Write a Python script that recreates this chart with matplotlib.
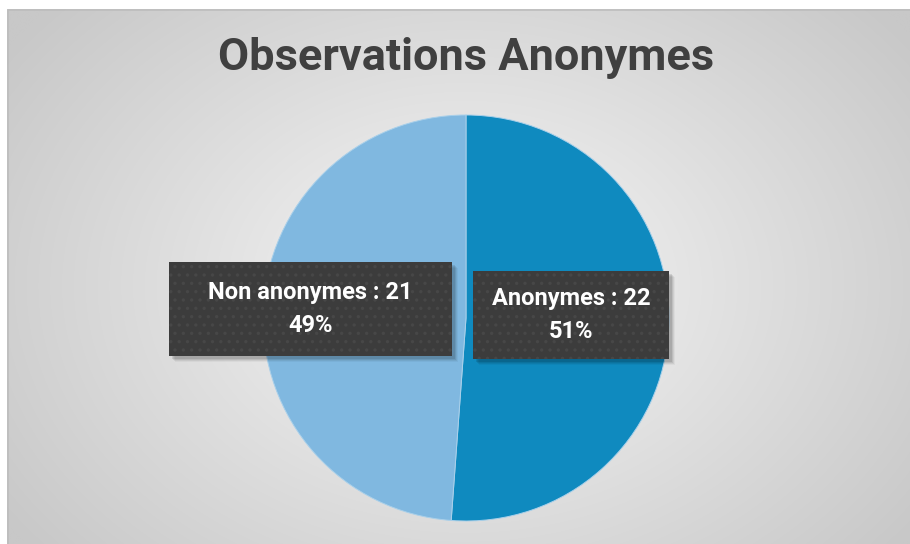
import numpy as np
import matplotlib
matplotlib.use("Agg")
import matplotlib.pyplot as plt
from matplotlib.patches import Rectangle

title = "Observations Anonymes"
categories = ["Anonymes", "Non anonymes"]
values = [22, 21]
colors = ["#0f8abf", "#80b8e0"]

plt.rcParams["hatch.linewidth"] = 1.2

W, H = 910, 544
fig = plt.figure(figsize=(W / 100, H / 100), dpi=100)
fig.patch.set_facecolor("white")

# background radial gradient in chart area
bg = fig.add_axes([0, 0, 1, 1])
bg.set_xlim(0, W)
bg.set_ylim(H, 0)
bg.axis("off")
yy, xx = np.mgrid[0:H, 0:W]
cx, cy = 460, 280
d = np.sqrt(((xx - cx) / 560) ** 2 + ((yy - cy) / 420) ** 2)
d = np.clip(d, 0, 1)
g = (247 - 47 * d) / 255
img = np.dstack([g, g, g])
bg.imshow(img, extent=[7, W + 2, H + 2, 9], aspect="auto", zorder=0)
bg.plot([7.5, 7.5, W + 5], [H + 5, 9.5, 9.5], color="#bdbdbd", lw=1.2, zorder=1)

fig.text(466 / W, 1 - 58 / H, title, ha="center", va="center",
         fontsize=32.5, fontweight="bold", color="#404040", family="Roboto")

# pie
cxp, cyp, r = 466, 318, 203
ax = fig.add_axes([(cxp - r) / W, (H - cyp - r) / H, 2 * r / W, 2 * r / H])
ax.pie(values, colors=colors, startangle=90, counterclock=False, radius=1,
       wedgeprops=dict(linewidth=0.7, edgecolor="#a9d0ea"))
ax.set_xlim(-1, 1)
ax.set_ylim(-1, 1)
ax.set_aspect("equal")
ax.axis("off")

total = sum(values)

lab_ax = fig.add_axes([0, 0, 1, 1])
lab_ax.set_xlim(0, W)
lab_ax.set_ylim(H, 0)
lab_ax.axis("off")


def label_box(x0, y0, x1, y1, text):
    for i, a in enumerate([0.10, 0.08, 0.06, 0.04]):
        off = 3 + i
        lab_ax.add_patch(Rectangle((x0 + off, y0 + off), x1 - x0, y1 - y0,
                                   facecolor="black", alpha=a, lw=0, zorder=5))
    lab_ax.add_patch(Rectangle((x0, y0), x1 - x0, y1 - y0,
                               facecolor="#3c3c3c", lw=0, zorder=6))
    lab_ax.add_patch(Rectangle((x0, y0), x1 - x0, y1 - y0, facecolor="none",
                               edgecolor="#474747", hatch="..", lw=0, zorder=7))
    lab_ax.text((x0 + x1) / 2, (y0 + y1) / 2, text, ha="center", va="center",
                color="white", fontsize=17, fontweight="bold", family="Roboto",
                linespacing=1.6, zorder=8)


pcts = [round(v / total * 100) for v in values]
label_box(473, 271, 669, 359, f"{categories[0]} : {values[0]}\n{pcts[0]}%")
label_box(169, 262, 452, 356, f"{categories[1]} : {values[1]}\n{pcts[1]}%")

fig.savefig("out.png", dpi=100)
